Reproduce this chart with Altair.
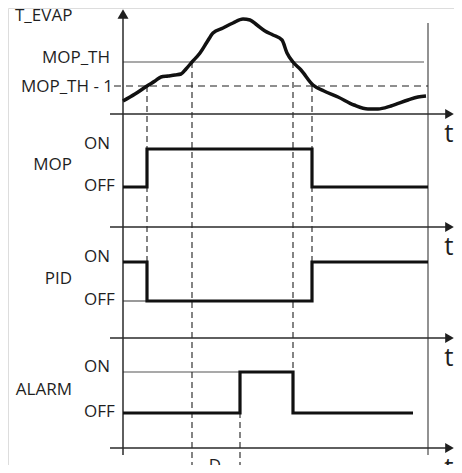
import altair as alt
import pandas as pd

# ---------------- data ----------------
# time instants (time units measured from the vertical T_EVAP axis)
t_origin = 0
t_mop_on = 24        # T_EVAP rises through MOP_TH - 1
t_th_up = 69         # T_EVAP rises through MOP_TH
t_alarm_on = 117     # MOP_TH crossing + delay D
t_th_down = 170      # T_EVAP falls back through MOP_TH
t_mop_off = 189      # T_EVAP falls through MOP_TH - 1
t_alarm_end = 290
t_end = 305

# T_EVAP trace (time, value in the common vertical units)
evap_t = [0, 12, 24, 32, 38, 45, 52, 58, 63, 69, 77, 84, 90, 100, 110, 120,
          127, 134, 142, 150, 159, 164, 170, 178, 190, 201, 215, 231, 245,
          255, 268, 285, 295, 303]
evap_v = [372, 379, 387, 392, 396, 397, 398, 399, 404, 411, 420, 431, 440,
          445, 450, 454, 453, 448, 442, 438, 433, 420, 411, 403, 388, 382,
          376, 368, 364, 364, 367, 373, 376, 377]

# thresholds and axes (common vertical units)
evap_axis = 359
mop_th = 411
mop_th_minus_1 = 387

# the three on/off panels
panel_names = ["MOP", "PID", "ALARM"]
panel_axis = [246, 135, 25]
panel_on = [324, 211, 101]
panel_off = [286, 172, 60]

# state changes of each signal
mop_times = [t_origin, t_mop_on, t_mop_off, t_end]
mop_states = ["OFF", "ON", "OFF", "OFF"]
pid_times = [t_origin, t_mop_on, t_mop_off, t_end]
pid_states = ["ON", "OFF", "ON", "ON"]
alarm_times = [t_origin, t_alarm_on, t_th_down, t_alarm_end]
alarm_states = ["OFF", "ON", "OFF", "OFF"]

# ---------------- build tables ----------------
FONT = "Open Sans"
INK = "#1f1f1f"
xs = alt.Scale(domain=[-115, 331], nice=False, zero=False)
ys = alt.Scale(domain=[8, 465], nice=False, zero=False)


def X(f):
    return alt.X(f, type="quantitative", scale=xs, axis=None)


def Y(f):
    return alt.Y(f, type="quantitative", scale=ys, axis=None)


def seg_layer(df, color, width, dash=None):
    kw = dict(color=color, strokeWidth=width, clip=False)
    if dash:
        kw["strokeDash"] = dash
    return alt.Chart(df).mark_rule(**kw).encode(
        x=X("t"), y=Y("u"), x2="t2", y2="u2")


# axes
axis_axes = [evap_axis] + panel_axis
axes_rows = [dict(t=0, u=18, t2=0, u2=457)]
for a in axis_axes:
    axes_rows.append(dict(t=-13, u=a, t2=324, u2=a))
axes_df = pd.DataFrame(axes_rows)

arrow_right_df = pd.DataFrame({"t": [326.5] * 4, "u": axis_axes})
arrow_up_df = pd.DataFrame({"t": [0], "u": [459]})

# thin solid lines
thin_df = pd.DataFrame([
    dict(t=0, u=mop_th, t2=301, u2=mop_th),
    dict(t=0, u=panel_off[1], t2=t_mop_on, u2=panel_off[1]),
    dict(t=0, u=panel_on[2], t2=t_alarm_on, u2=panel_on[2]),
])
border_df = pd.DataFrame([dict(t=t_end, u=18, t2=t_end, u2=450)])
hdash_df = pd.DataFrame([dict(t=-9, u=mop_th_minus_1, t2=t_end, u2=mop_th_minus_1)])
vdash_df = pd.DataFrame([
    dict(t=t_mop_on, u=mop_th_minus_1, t2=t_mop_on, u2=panel_on[1]),
    dict(t=t_th_up, u=mop_th, t2=t_th_up, u2=0),
    dict(t=t_alarm_on, u=panel_on[2], t2=t_alarm_on, u2=0),
    dict(t=t_th_down, u=mop_th, t2=t_th_down, u2=panel_on[2]),
    dict(t=t_mop_off, u=mop_th_minus_1, t2=t_mop_off, u2=panel_on[1]),
])

# signals
sig_rows = []
for name, times, states, on, off in zip(
        panel_names, [mop_times, pid_times, alarm_times],
        [mop_states, pid_states, alarm_states], panel_on, panel_off):
    for i, (tt, st) in enumerate(zip(times, states)):
        sig_rows.append(dict(signal=name, order=i, t=tt, u=on if st == "ON" else off))
sig_df = pd.DataFrame(sig_rows)

evap_df = pd.DataFrame({"t": evap_t, "u": evap_v})

# texts
left_rows = [dict(t=-108, u=452, text="T_EVAP")]
right_rows = [dict(t=-13, u=410, text="MOP_TH"),
              dict(t=-10, u=381, text="MOP_TH - 1")]
for name, on, off in zip(panel_names, panel_on, panel_off):
    left_rows.append(dict(t=-39, u=on, text="ON"))
    left_rows.append(dict(t=-39, u=off - 4, text="OFF"))
    right_rows.append(dict(t=-51, u=(on + off) / 2 - 2, text=name))
left_df = pd.DataFrame(left_rows)
right_df = pd.DataFrame(right_rows)
t_df = pd.DataFrame({"t": [326] * 4, "u": [a - 28 for a in axis_axes], "text": ["t"] * 4})
d_df = pd.DataFrame({"t": [92], "u": [2], "text": ["D"]})


def text_layer(df, align, size):
    return alt.Chart(df).mark_text(
        align=align, baseline="alphabetic", font=FONT, fontSize=size,
        color=INK, clip=False).encode(x=X("t"), y=Y("u"), text="text:N")


layers = [
    seg_layer(thin_df, "#555555", 1.2),
    seg_layer(border_df, "#6e6e6e", 1.5),
    seg_layer(hdash_df, INK, 1.1, [7, 5]),
    seg_layer(vdash_df, INK, 1.1, [6, 4]),
    seg_layer(axes_df, "#2a2a2a", 1.5),
    alt.Chart(arrow_right_df).mark_point(
        shape="triangle-right", filled=True, size=100, color=INK, opacity=1,
        clip=False).encode(x=X("t"), y=Y("u")),
    alt.Chart(arrow_up_df).mark_point(
        shape="triangle-up", filled=True, size=121, color=INK, opacity=1,
        clip=False).encode(x=X("t"), y=Y("u")),
    alt.Chart(sig_df).mark_line(
        interpolate="step-after", color="#111111", strokeWidth=3.2,
        clip=False).encode(x=X("t"), y=Y("u"), detail="signal:N", order="order:Q"),
    alt.Chart(evap_df).mark_line(
        interpolate="monotone", color="#111111", strokeWidth=3.5,
        clip=False).encode(x=X("t"), y=Y("u")),
    text_layer(left_df, "left", 17),
    text_layer(right_df, "right", 17),
    text_layer(t_df, "center", 26),
    text_layer(d_df, "center", 17),
]

chart = alt.layer(*layers).properties(
    width=446, height=457, padding=0,
    autosize=alt.AutoSizeParams(type="none"),
).configure_view(stroke=None).configure(background="white")

chart.save("out.html", embed_options={"renderer": "svg", "actions": False})
